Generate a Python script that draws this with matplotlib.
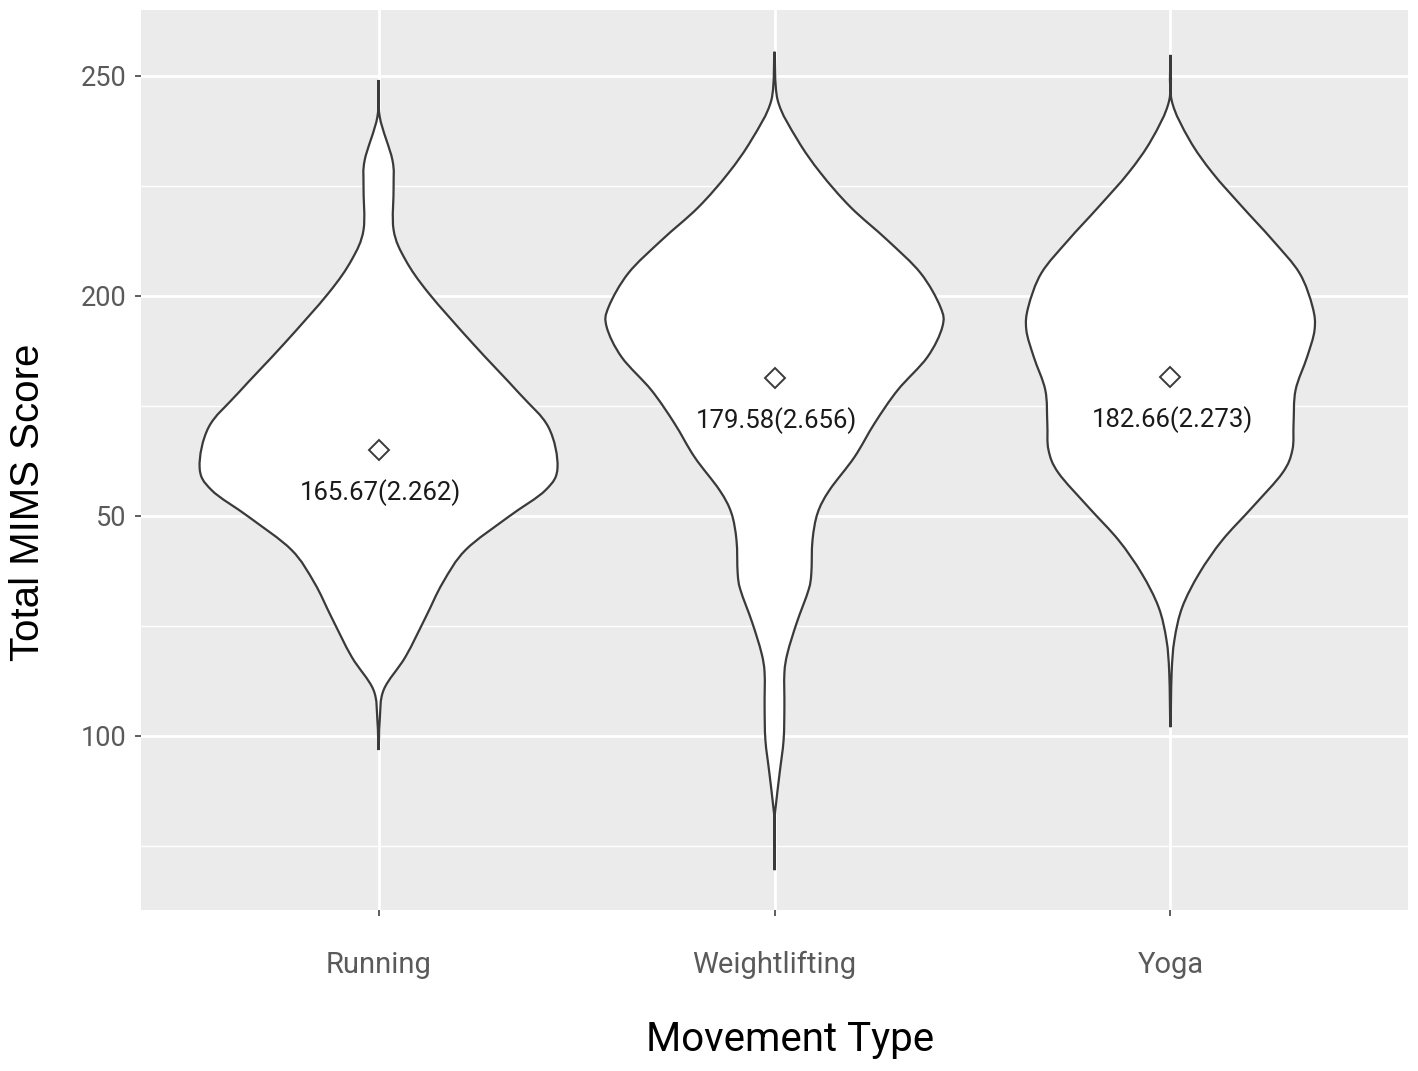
import numpy as np
import matplotlib
matplotlib.use("Agg")
import matplotlib.pyplot as plt
from matplotlib.path import Path
from matplotlib.patches import PathPatch

# ---------------- data ----------------
categories = ["Running", "Weightlifting", "Yoga"]

# violin outlines: score and half-width (in category units)
running_score = [96.8, 103.6, 110.5, 118.0, 127.0, 134.8, 142.3, 149.8, 155.9, 161.1,
                 170.2, 178.0, 189.3, 200.7, 208.2, 215.0, 224.8, 230.9, 240.7, 249.1]
running_width = [0.0, 0.003, 0.013, 0.068, 0.119, 0.162, 0.220, 0.328, 0.422, 0.452,
                 0.429, 0.354, 0.237, 0.126, 0.068, 0.038, 0.038, 0.035, 0.003, 0.0]

weight_score = [69.5, 80.2, 83.9, 91.6, 99.1, 106.6, 114.3, 118.9, 125.7, 133.2, 137.0,
                144.5, 150.7, 155.9, 163.4, 171.1, 178.6, 186.1, 193.0, 197.5, 205.2,
                212.7, 220.2, 228.0, 235.5, 244.5, 255.5]
weight_width = [0.0, 0.0, 0.003, 0.013, 0.023, 0.025, 0.025, 0.033, 0.056, 0.086, 0.093,
                0.096, 0.109, 0.139, 0.202, 0.253, 0.311, 0.386, 0.424, 0.419, 0.369,
                0.285, 0.192, 0.116, 0.058, 0.008, 0.0]

yoga_score = [102.0, 114.3, 121.8, 129.3, 137.0, 144.5, 152.0, 159.8, 165.0, 171.1,
              178.6, 186.1, 192.3, 197.5, 205.2, 212.7, 220.2, 228.0, 235.5,
              244.5, 254.8]
yoga_width = [0.0, 0.003, 0.010, 0.030, 0.073, 0.131, 0.207, 0.283, 0.308, 0.311,
              0.316, 0.345, 0.364, 0.359, 0.326, 0.258, 0.182, 0.106, 0.048,
              0.003, 0.0]

marker_values = [165.0, 181.4, 181.6]
label_texts = ["165.67(2.262)", "179.58(2.656)", "182.66(2.273)"]

ytick_values = [100, 150, 200, 250]
ytick_labels = ["100", "50", "200", "250"]
yminor_values = [75, 125, 175, 225]

xlabel = "Movement Type"
ylabel = "Total MIMS Score"

# ---------------- helpers ----------------
def catmull_rom_path(pts):
    """Closed smooth path (Bezier segments) through the given outline points."""
    pts = np.asarray(pts, float)
    n = len(pts)
    verts = [pts[0]]
    codes = [Path.MOVETO]
    for i in range(n):
        p0 = pts[(i - 1) % n]
        p1 = pts[i]
        p2 = pts[(i + 1) % n]
        p3 = pts[(i + 2) % n]
        c1 = p1 + (p2 - p0) / 6.0
        c2 = p2 - (p3 - p1) / 6.0
        verts += [c1, c2, p2]
        codes += [Path.CURVE4] * 3
    return Path(verts, codes)


def violin_path(center, score, width):
    score = np.asarray(score, float)
    width = np.asarray(width, float)
    right = np.column_stack([center + width, score])          # bottom -> top
    left = np.column_stack([center - width, score])[::-1]      # top -> bottom
    pts = np.vstack([right, left[1:-1]])
    return catmull_rom_path(pts)


# ---------------- figure ----------------
plt.rcParams["font.family"] = ["Roboto", "DejaVu Sans"]

fig = plt.figure(figsize=(14.18, 10.71), dpi=100)
ax = fig.add_axes([141 / 1418, 1 - 910 / 1071, (1408 - 141) / 1418, 900 / 1071])
ax.set_facecolor("#EBEBEB")
for s in ax.spines.values():
    s.set_visible(False)

ax.set_xlim(0.4, 3.6)
ax.set_ylim(60.45, 265.0)

positions = np.arange(1, len(categories) + 1)
ax.set_xticks(positions)
ax.set_xticklabels(categories)
ax.set_yticks(ytick_values)
ax.set_yticklabels(ytick_labels)
ax.set_yticks(yminor_values, minor=True)

ax.grid(which="major", color="white", linewidth=2.0)
ax.grid(which="minor", axis="y", color="white", linewidth=1.0)
ax.set_axisbelow(True)

ax.tick_params(axis="both", which="major", color="#333333", length=4.5, width=1.1)
ax.tick_params(axis="y", which="minor", length=0)
ax.tick_params(axis="y", labelsize=19.5, labelcolor="#5a5a5a", pad=6)
ax.tick_params(axis="x", labelsize=21, labelcolor="#5a5a5a", pad=25)

all_scores = [running_score, weight_score, yoga_score]
all_widths = [running_width, weight_width, yoga_width]
for c, sc, wd in zip(positions, all_scores, all_widths):
    patch = PathPatch(violin_path(c, sc, wd), facecolor="white",
                      edgecolor="#3a3a3a", linewidth=1.6, zorder=3)
    ax.add_patch(patch)

ax.plot(positions, marker_values, linestyle="none", marker="D", markersize=10,
        markerfacecolor="none", markeredgecolor="#3a3a3a", markeredgewidth=1.4,
        zorder=4)

for c, v, t in zip(positions, marker_values, label_texts):
    ax.annotate(t, xy=(c, v), xytext=(1.5, -31), textcoords="offset points",
                ha="center", va="center", fontsize=18.5, color="#1a1a1a", zorder=5)

ax.set_xlabel(xlabel, fontsize=29, color="black")
ax.xaxis.set_label_coords(0.512, -0.122)
ax.set_ylabel(ylabel, fontsize=29, color="black", family=["Liberation Sans", "DejaVu Sans"])
ax.yaxis.set_label_coords(-0.074, 0.453)

fig.savefig("out.png", dpi=100, facecolor="white")
